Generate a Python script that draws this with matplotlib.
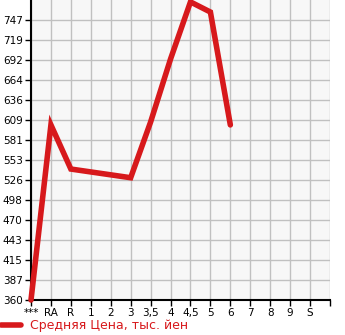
import numpy as np
import matplotlib
matplotlib.use('Agg')
import matplotlib.pyplot as plt
from matplotlib.lines import Line2D

categories = ['***', 'RA', 'R', '1', '2', '3', '3,5', '4', '4,5', '5', '6', '7', '8', '9', 'S']
yticks = [360, 387, 415, 443, 470, 498, 526, 553, 581, 609, 636, 664, 692, 719, 747]

# points that have a value (categories 1 and 2 have none)
point_cats = ['***', 'RA', 'R', '3', '3,5', '4', '4,5', '5', '6']
point_vals = [360, 602, 541, 529, 606, 693, 772, 758, 602]

red = '#d7191c'

def main():
    fig = plt.figure(figsize=(3.45, 3.35), dpi=100)
    ax = fig.add_axes([31/345, 35/335, 299/345, 300/335])
    ax.set_facecolor('#f7f7f7')

    xs = [categories.index(c) for c in point_cats]
    ax.plot(xs, point_vals, color=red, lw=4, solid_capstyle='round', solid_joinstyle='miter', clip_on=False, zorder=3)

    ax.set_xlim(0, len(categories))
    ax.set_ylim(360, 360 + 15 * (747 - 360) / 14)
    ax.set_xticks(range(len(categories) + 1))
    ax.set_xticklabels(categories + [''])
    ax.set_yticks(yticks)
    ax.set_yticklabels([str(v) for v in yticks])
    ax.tick_params(labelsize=7.5, length=4, width=1, color='black', pad=2)
    ax.grid(True, color='#c0c0c0', lw=1)
    ax.set_axisbelow(True)
    for s in ['top', 'right']:
        ax.spines[s].set_visible(False)
    for s in ['left', 'bottom']:
        ax.spines[s].set_linewidth(1.5)
        ax.spines[s].set_color('black')

    fig.add_artist(Line2D([1/345, 21/345], [10/335, 10/335], color=red, lw=4, solid_capstyle='round'))
    fig.text(30/345, 10/335, 'Средняя Цена, тыс. йен', color=red, fontsize=9, va='center', ha='left')

    fig.savefig('out.png', dpi=100)


if __name__ == '__main__':
    main()
